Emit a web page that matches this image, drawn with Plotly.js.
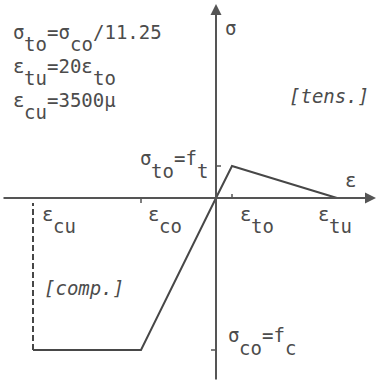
<!DOCTYPE html>
<html><head><meta charset="utf-8">
<script src="https://cdn.plot.ly/plotly-3.0.1.min.js"></script>
<style>html,body{margin:0;padding:0;background:#fff;}#chart{width:377px;height:381px;}</style>
</head><body><div id="chart"></div>
<script>
// Schematic concrete stress-strain law (drawing units, not to scale)
const strain = [-183, -75, 0, 16, 121];   // ε_cu, ε_co, 0, ε_to, ε_tu
const stress = [-152, -152, 0, 32, 0];    // σ_co, σ_co, 0, σ_to, 0
const capStrain = [-183, -183];           // ultimate compressive strain (dashed)
const capStress = [-152, -5];
const noteLines = [
  ['σ', 'to', '=σ', 'co', '/11.25'],
  ['ε', 'tu', '=20ε', 'to'],
  ['ε', 'cu', '=3500μ']
];
const strainLabels = [['ε', 'cu'], ['ε', 'co'], ['ε', 'to'], ['ε', 'tu']];
const stressLabels = [['σ', 'to', '=f', 't'], ['σ', 'co', '=f', 'c']];

const W = 377, H = 381;
const X0 = 216, Y0 = 198;             // origin position in px
const FS = 19, PITCH = FS * 0.602;
const INK = '#4c4c4c', LINE = '#474747';
const FONT = 'DejaVu Sans Mono';

const annotations = [];
function addText(parts, xLeftPx, basePx, drop, style) {
  let x = xLeftPx;
  parts.forEach((p, i) => {
    const b = basePx + (i % 2 === 1 ? drop : 0);
    annotations.push({
      xref: 'paper', yref: 'paper',
      x: x / W, y: 1 - (b - 0.346 * FS) / H,
      xanchor: 'left', yanchor: 'middle',
      text: p, showarrow: false, borderpad: 0, borderwidth: 0,
      font: {family: FONT, size: FS, color: INK, style: style || 'normal'}
    });
    x += p.length * PITCH;
  });
}
// notes top-left
noteLines.forEach((ln, k) => addText(ln, 13, 39 + k * 34, 12));
// axis names
addText(['σ'], 225, 35, 0);
addText(['ε'], 345, 187, 0);
addText(['[tens.]'], 289, 103, 0, 'italic');
addText(['[comp.]'], 44, 295, 0, 'italic');
// strain labels below x axis
const sIdx = [0, 1, 3, 4], sOff = [9, 7, 8, -19];
strainLabels.forEach((lab, k) => addText(lab, X0 + strain[sIdx[k]] + sOff[k], 221, 12));
// stress labels
addText(stressLabels[0], 140, Y0 - stress[3] - 1, 13);
addText(stressLabels[1], 228, Y0 - stress[1] - 8, 13);

// axes with arrows
annotations.push({xref: 'x', yref: 'y', axref: 'x', ayref: 'y',
  x: 160, y: 0, ax: -214, ay: 0, text: '', showarrow: true,
  arrowhead: 2, arrowsize: 1.1, arrowwidth: 2, arrowcolor: '#555', standoff: 0});
annotations.push({xref: 'x', yref: 'y', axref: 'x', ayref: 'y',
  x: 0, y: 194, ax: 0, ay: -183, text: '', showarrow: true,
  arrowhead: 2, arrowsize: 1.1, arrowwidth: 2, arrowcolor: '#555', standoff: 0});

// small ticks
const shapes = [
  {type: 'line', x0: strain[3], x1: strain[3], y0: 0, y1: 4},
  {type: 'line', x0: strain[1], x1: strain[1], y0: 0, y1: -5},
  {type: 'line', x0: 0, x1: 5, y0: stress[3], y1: stress[3]},
  {type: 'line', x0: -5, x1: 0, y0: stress[1], y1: stress[1]}
].map(s => Object.assign(s, {xref: 'x', yref: 'y', line: {color: '#555', width: 1.5}}));

const traces = [
  {x: strain, y: stress, type: 'scatter', mode: 'lines',
   line: {color: LINE, width: 2}, hoverinfo: 'skip'},
  {x: capStrain, y: capStress, type: 'scatter', mode: 'lines',
   line: {color: LINE, width: 2, dash: '6px,3px'}, hoverinfo: 'skip'}
];

const layout = {
  width: W, height: H,
  margin: {l: 0, r: 0, t: 0, b: 0, pad: 0},
  paper_bgcolor: '#fff', plot_bgcolor: '#fff',
  showlegend: false,
  xaxis: {range: [-X0, W - X0], visible: false, fixedrange: true},
  yaxis: {range: [Y0 - H, Y0], visible: false, fixedrange: true},
  annotations: annotations, shapes: shapes
};
Plotly.newPlot('chart', traces, layout, {staticPlot: true, displayModeBar: false});
</script>
</body></html>
